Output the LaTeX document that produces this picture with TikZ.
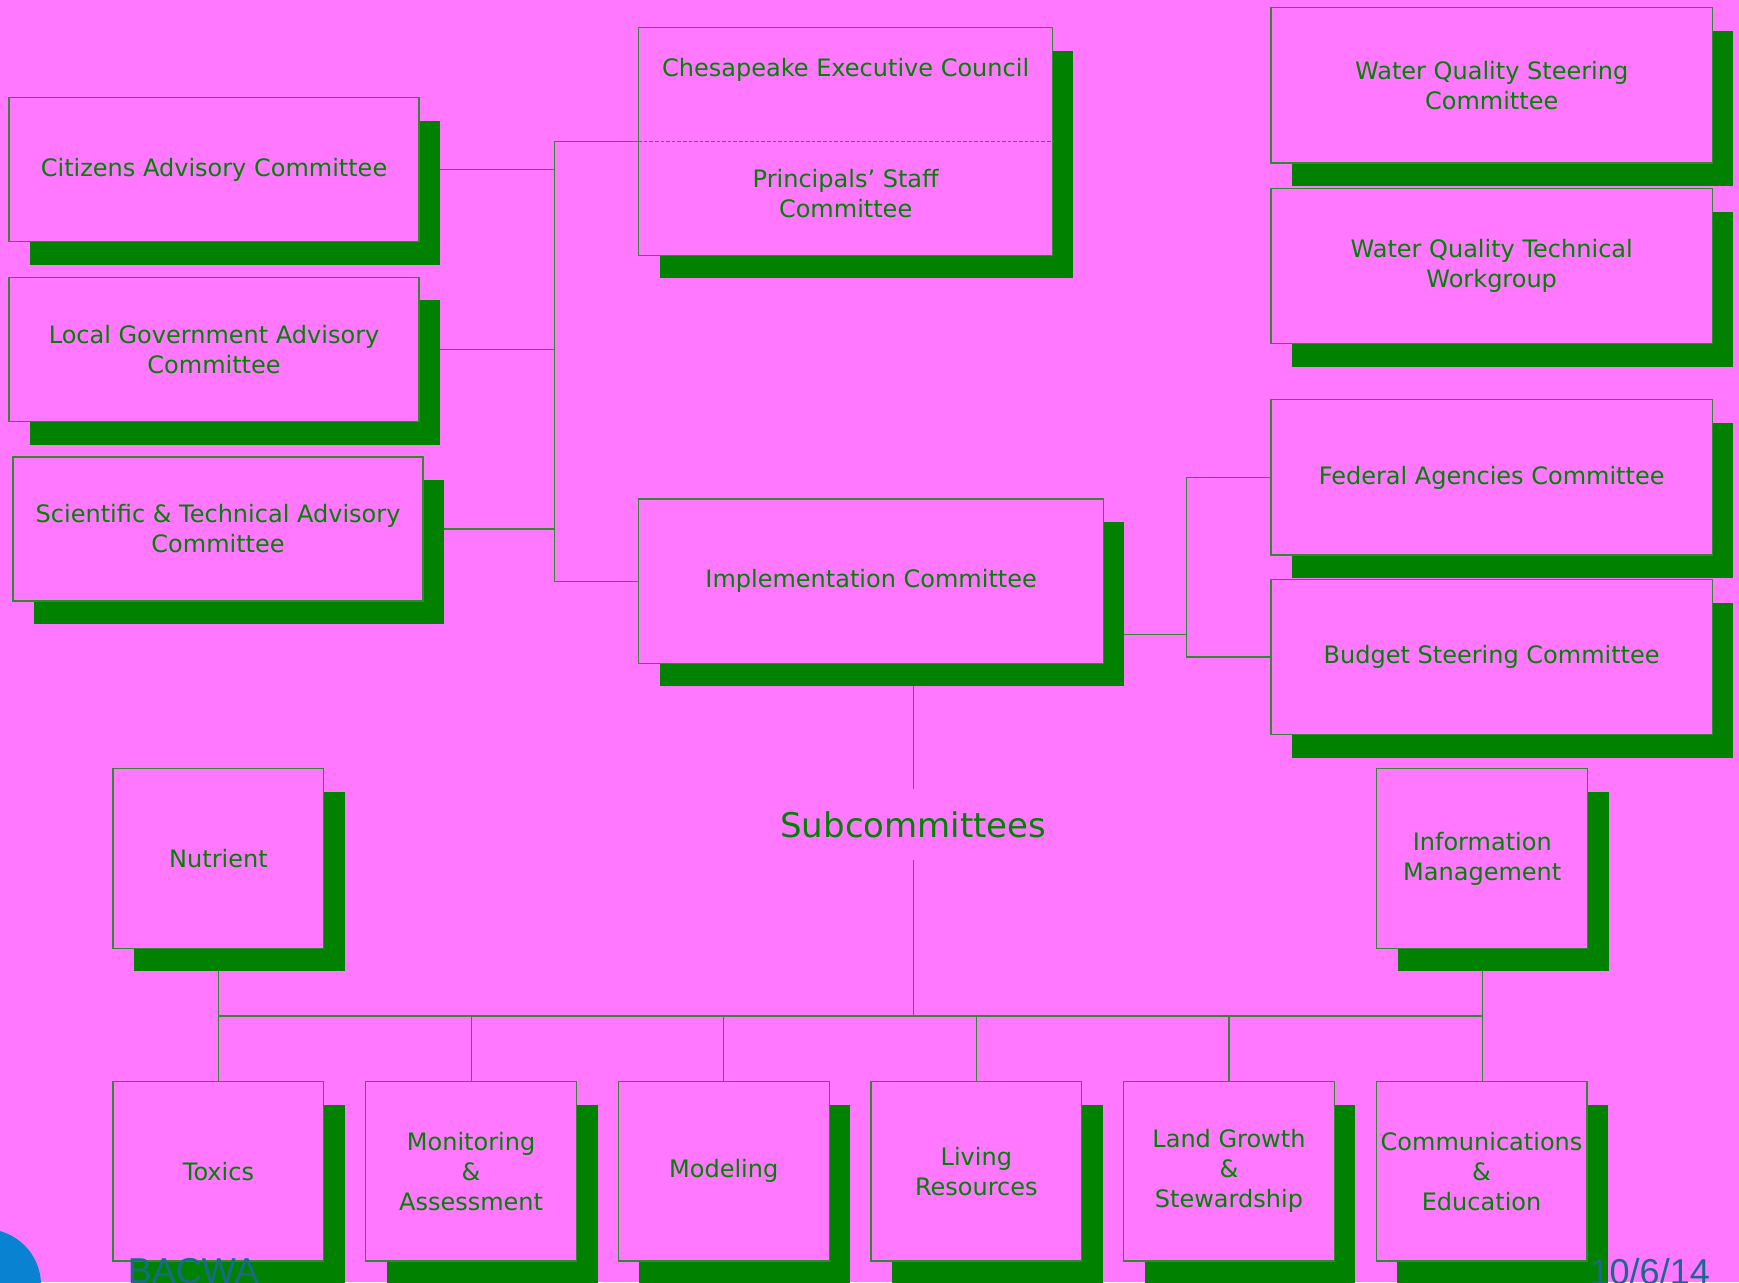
\documentclass[tikz,border=0pt]{standalone}
\usepackage{fontspec}
\setmainfont{DejaVu Sans}
\newfontfamily\footfont{Liberation Sans}
\usepackage{tikz}
\usetikzlibrary{shadows,backgrounds,positioning}
\definecolor{slidepink}{RGB}{255,120,255}
\definecolor{orggreen}{RGB}{0,130,0}
\definecolor{edgegreen}{RGB}{50,135,50}
\definecolor{footteal}{RGB}{25,105,140}
\definecolor{dotblue}{RGB}{10,130,210}

\begin{document}
\begin{tikzpicture}[x=0.5545pt,y=-0.5545pt,
            boxtext/.style={text=orggreen,align=center,font=\fontsize{12}{15}\selectfont},
            box/.style={boxtext,draw=edgegreen,line width=0.6pt,fill=slidepink,inner sep=0pt,
                drop shadow={shadow xshift=10.5pt,shadow yshift=-11.6pt,fill=orggreen,opacity=1}},
            widebox/.style={box,minimum width=205pt,minimum height=72pt},
            sidebox/.style={box,minimum width=220.7pt,minimum height=77.6pt},
            subbox/.style={box,minimum width=105.4pt,minimum height=89.8pt},
            link/.style={draw=edgegreen,line width=0.6pt}]
        \useasboundingbox (0,0) rectangle (1568,1156);
        \begin{scope}[on background layer]
            \fill[slidepink] (0,0) rectangle (1568,1156);
        \end{scope}

        \node[widebox] (cac) at (193,153) {Citizens Advisory Committee};
        \node[widebox,below=17.2pt of cac] (lgac) {Local Government Advisory\\Committee};
        \node[widebox,below=17.2pt of lgac,xshift=2pt] (stac) {Scientific \& Technical Advisory\\Committee};

        \node[box,minimum width=206.8pt,minimum height=113.7pt] (exec) at (762.5,127.5) {};
        \node[boxtext] (council) at ([yshift=-21.5pt]exec.north) {Chesapeake Executive Council};
        \node[boxtext] (staff) at ([yshift=-26pt]exec.center) {Principals' Staff\\Committee};
        \draw[edgegreen,line width=0.6pt,dash pattern=on 1.8pt off 1pt] (exec.west) -- (exec.east);

        \node[box,minimum width=232.3pt,minimum height=82.1pt] (impl) at (785.5,524) {Implementation Committee};

        \node[sidebox] (wqsc) at (1345,77) {Water Quality Steering\\Committee};
        \node[sidebox,below=12.2pt of wqsc] (wqtw) {Water Quality Technical\\Workgroup};
        \node[sidebox] (fac) at (1345,430.5) {Federal Agencies Committee};
        \node[sidebox,below=11.6pt of fac] (bsc) {Budget Steering Committee};

        \node[text=orggreen,font=\fontsize{17}{20}\selectfont,inner sep=0pt,minimum height=35pt] (sub) at (823.5,743.5) {Subcommittees};

        \node[subbox] (nut) at (197,774) {Nutrient};
        \node[subbox] (info) at (1336.5,774) {Information\\Management};
        \node[subbox] (tox) at (197,1056) {Toxics};
        \node[subbox,right=20.3pt of tox] (mon) {Monitoring\\\&\\Assessment};
        \node[subbox,right=20.3pt of mon] (mod) {Modeling};
        \node[subbox,right=20.3pt of mod] (liv) {Living\\Resources};
        \node[subbox,right=20.3pt of liv] (land) {Land Growth\\\&\\Stewardship};
        \node[subbox,right=20.3pt of land] (comm) {Communications\\\&\\Education};

        \begin{scope}[on background layer]
            \coordinate (lbus) at (500,128);
            \draw[link] (exec.west) -| (lbus |- impl.west) -- (impl.west);
            \draw[link] (cac.east) -- (cac.east -| lbus);
            \draw[link] (lgac.east) -- (lgac.east -| lbus);
            \draw[link] (stac.east) -- (stac.east -| lbus);
            \coordinate (rbus) at (1070,572);
            \draw[link] (impl.center |- rbus) -- (rbus);
            \draw[link] (fac.west) -| (rbus |- bsc.west) -- (bsc.west);
            \coordinate (sbus) at (824,916);
            \draw[link] (impl.center -| sub) -- (sub.north);
            \draw[link] (sub.south) -- (sub |- sbus);
            \draw[link] (nut) -- (tox);
            \draw[link] (info) -- (info |- comm.north);
            \draw[link] (nut |- sbus) -- (info |- sbus);
            \foreach \n in {mon,mod,liv,land}
                \draw[link] (\n) -- (\n |- sbus);
        \end{scope}

        \fill[dotblue] (-13.5,1158.7) circle (28pt);
        \node[font=\footfont\fontsize{18}{20}\selectfont,text=footteal,inner sep=0pt,anchor=base west] (org) at (115,1157) {BACWA};
        \node[font=\footfont\fontsize{18}{20}\selectfont,text=footteal,inner sep=0pt,anchor=base west] (date) at (1433,1158) {10/6/14};
    \end{tikzpicture}
\end{document}
